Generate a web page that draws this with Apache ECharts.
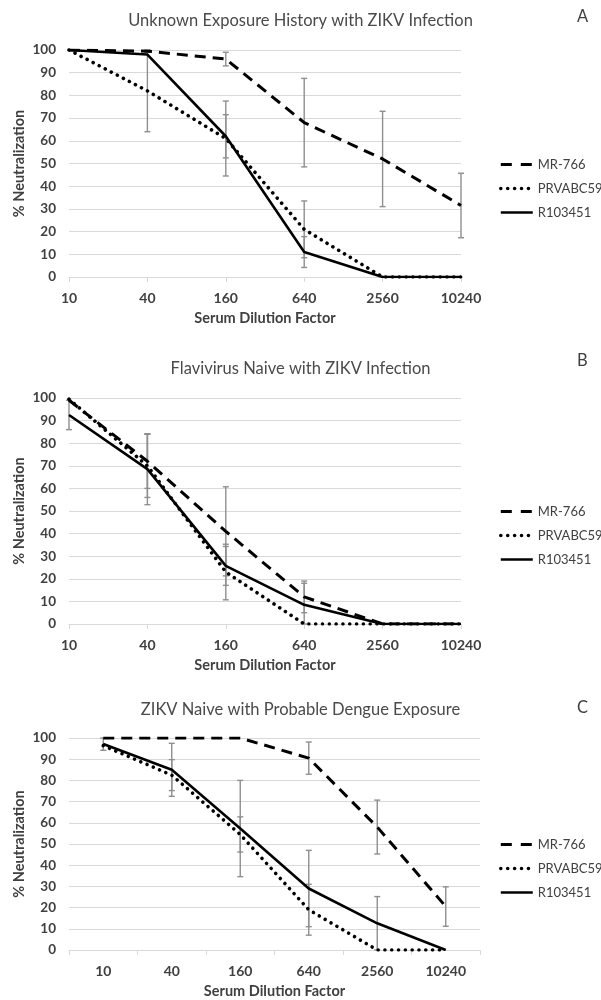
<!DOCTYPE html>
<html>
<head>
<meta charset="utf-8">
<script src="https://cdn.jsdelivr.net/npm/echarts@6/dist/echarts.min.js"></script>
<style>
html,body{margin:0;padding:0;background:#fff;}
#chart{width:601px;height:1000px;}
</style>
</head>
<body>
<div id="chart"></div>
<script>
// ---- data ----
const categories = ['10', '40', '160', '640', '2560', '10240'];
const seriesNames = ['MR-766', 'PRVABC59', 'R103451'];
const panelTitles = ['Unknown Exposure History with ZIKV Infection', 'Flavivirus Naive with ZIKV Infection', 'ZIKV Naive with Probable Dengue Exposure'];
const panelLetters = ['A', 'B', 'C'];
const yTicks = [0, 10, 20, 30, 40, 50, 60, 70, 80, 90, 100];

// Panel A
const mrA  = [100, 99.5, 96, 68, 52, 31.5];
const prvA = [100, 82, 61, 21, 0, 0];
const rA   = [100, 98, 62, 11, 0, 0];
const errMrA  = [null, 0.5, 3, 19.5, 21, 14.2];
const errPrvA = [null, 18, 16.5, 12.5, null, null];
const errRA   = [null, null, 9.5, 6.8, null, null];

// Panel B
const mrB  = [99, 72, 41, 12, 0, 0];
const prvB = [99.5, 70, 23, 0, 0, 0];
const rB   = [92.5, 68.5, 25.7, 8.5, 0, 0];
const errMrB  = [null, 12, 19.7, 7, null, null];
const errPrvB = [null, 14, 12.3, null, null, null];
const errRB   = [6.5, 15.7, 8.6, 9.5, null, null];

// Panel C
const mrC  = [100, 100, 100, 90.5, 58, 20.5];
const prvC = [96.4, 82.5, 54.5, 19, 0, 0];
const rC   = [97.2, 85, 57.3, 29, 12.6, 0];
const errMrC  = [null, null, null, 7.6, 12.7, 9.3];
const errPrvC = [null, 7.3, 8.3, 12, null, null];
const errRC   = [3, 12.5, 22.7, 18, 12.6, null];

const panels = [
  { vals: [mrA, prvA, rA], errs: [errMrA, errPrvA, errRA] },
  { vals: [mrB, prvB, rB], errs: [errMrB, errPrvB, errRB] },
  { vals: [mrC, prvC, rC], errs: [errMrC, errPrvC, errRC] }
];

// ---- layout / style ----
const FONT = 'Lato';
const TXT = '#404040';
const GRIDC = '#d9d9d9';
const gridBoxes = [
  { left: 69, top: 50, width: 392, height: 227 },
  { left: 69, top: 398, width: 392, height: 226 },
  { left: 69, top: 738, width: 411, height: 212 }
];
const boundary = [false, false, true];
const titleTops = [12, 360, 701];
const letterTops = [8, 352, 699];
const legendTops = [158, 505, 838];

const lineStyles = [
  { color: '#000', width: 3, type: [11, 7] },
  { color: '#000', width: 3.6, type: [0.01, 6.8], cap: 'round' },
  { color: '#000', width: 2.6, type: 'solid' }
];
const legendLineStyles = [
  { color: '#000', width: 3, type: [11, 9], opacity: 1 },
  { color: '#000', width: 3.6, type: [0.01, 6.9], cap: 'round', opacity: 1 },
  { color: '#000', width: 2.6, type: 'solid', opacity: 1 }
];

function errData(vals, errs) {
  const out = [];
  errs.forEach((e, i) => {
    if (e === null) return;
    out.push([i, Math.max(0, vals[i] - e), Math.min(100, vals[i] + e)]);
  });
  return out;
}

function renderErr(params, api) {
  const x = api.value(0);
  const lo = api.coord([x, api.value(1)]);
  const hi = api.coord([x, api.value(2)]);
  const h = 3;
  const st = { stroke: '#8f8f8f', lineWidth: 1.4 };
  return {
    type: 'group',
    children: [
      { type: 'line', shape: { x1: lo[0], y1: lo[1], x2: hi[0], y2: hi[1] }, style: st },
      { type: 'line', shape: { x1: hi[0] - h, y1: hi[1], x2: hi[0] + h, y2: hi[1] }, style: st },
      { type: 'line', shape: { x1: lo[0] - h, y1: lo[1], x2: lo[0] + h, y2: lo[1] }, style: st }
    ]
  };
}

const option = {
  backgroundColor: '#fff',
  animation: false,
  title: [],
  legend: [],
  grid: [],
  xAxis: [],
  yAxis: [],
  series: []
};

panels.forEach((p, k) => {
  option.title.push({
    text: panelTitles[k], left: 'center', top: titleTops[k], padding: 0,
    textStyle: { fontFamily: FONT, fontSize: 16.5, fontWeight: 'normal', color: '#4a4a4a' }
  });
  option.title.push({
    text: panelLetters[k], left: 577, top: letterTops[k], padding: 0,
    textStyle: { fontFamily: FONT, fontSize: 16.5, fontWeight: 'normal', color: '#404040' }
  });
  option.legend.push({
    data: seriesNames.map((n, s) => ({ name: n, lineStyle: legendLineStyles[s] })),
    orient: 'vertical', left: 499, top: legendTops[k], padding: 0,
    itemWidth: 32, itemHeight: 14, itemGap: 11,
    itemStyle: { opacity: 0 },
    textStyle: { fontFamily: FONT, fontSize: 13, color: TXT, overflow: 'none' }
  });
  option.grid.push(Object.assign({ containLabel: false }, gridBoxes[k]));
  option.xAxis.push({
    type: 'category', gridIndex: k, data: categories, boundaryGap: boundary[k],
    name: 'Serum Dilution Factor', nameLocation: 'middle', nameGap: 34,
    nameMoveOverlap: false,
    nameTextStyle: { fontFamily: FONT, fontSize: 14.5, fontWeight: 'bold', color: TXT },
    axisLine: { lineStyle: { color: GRIDC, width: 1 } },
    axisTick: { show: true, length: 5, lineStyle: { color: GRIDC } },
    axisLabel: { fontFamily: FONT, fontSize: 14, fontWeight: 'bold', color: TXT, margin: 14 },
    splitLine: { show: false }
  });
  option.yAxis.push({
    type: 'value', gridIndex: k, min: 0, max: 100, interval: 10,
    name: '% Neutralization', nameLocation: 'middle', nameGap: 42,
    nameMoveOverlap: false,
    nameTextStyle: { fontFamily: FONT, fontSize: 14.5, fontWeight: 'bold', color: TXT },
    axisLine: { show: false }, axisTick: { show: false },
    axisLabel: { fontFamily: FONT, fontSize: 13.5, fontWeight: 'bold', color: TXT, margin: 13,
      formatter: v => yTicks.indexOf(v) >= 0 ? String(v) : '' },
    splitLine: { lineStyle: { color: GRIDC, width: 1 } }
  });
  p.vals.forEach((v, s) => {
    option.series.push({
      type: 'custom', name: seriesNames[s] + '-err', xAxisIndex: k, yAxisIndex: k,
      data: errData(v, p.errs[s]), renderItem: renderErr, z: 2, silent: true,
      encode: { x: 0, y: [1, 2] }
    });
  });
  p.vals.forEach((v, s) => {
    option.series.push({
      type: 'line', name: seriesNames[s], xAxisIndex: k, yAxisIndex: k,
      data: v, symbol: 'none', showSymbol: false, z: 3,
      color: '#000',
      lineStyle: lineStyles[s]
    });
  });
});

const chart = echarts.init(document.getElementById('chart'), null, { renderer: 'canvas' });
chart.setOption(option);
</script>
</body>
</html>
